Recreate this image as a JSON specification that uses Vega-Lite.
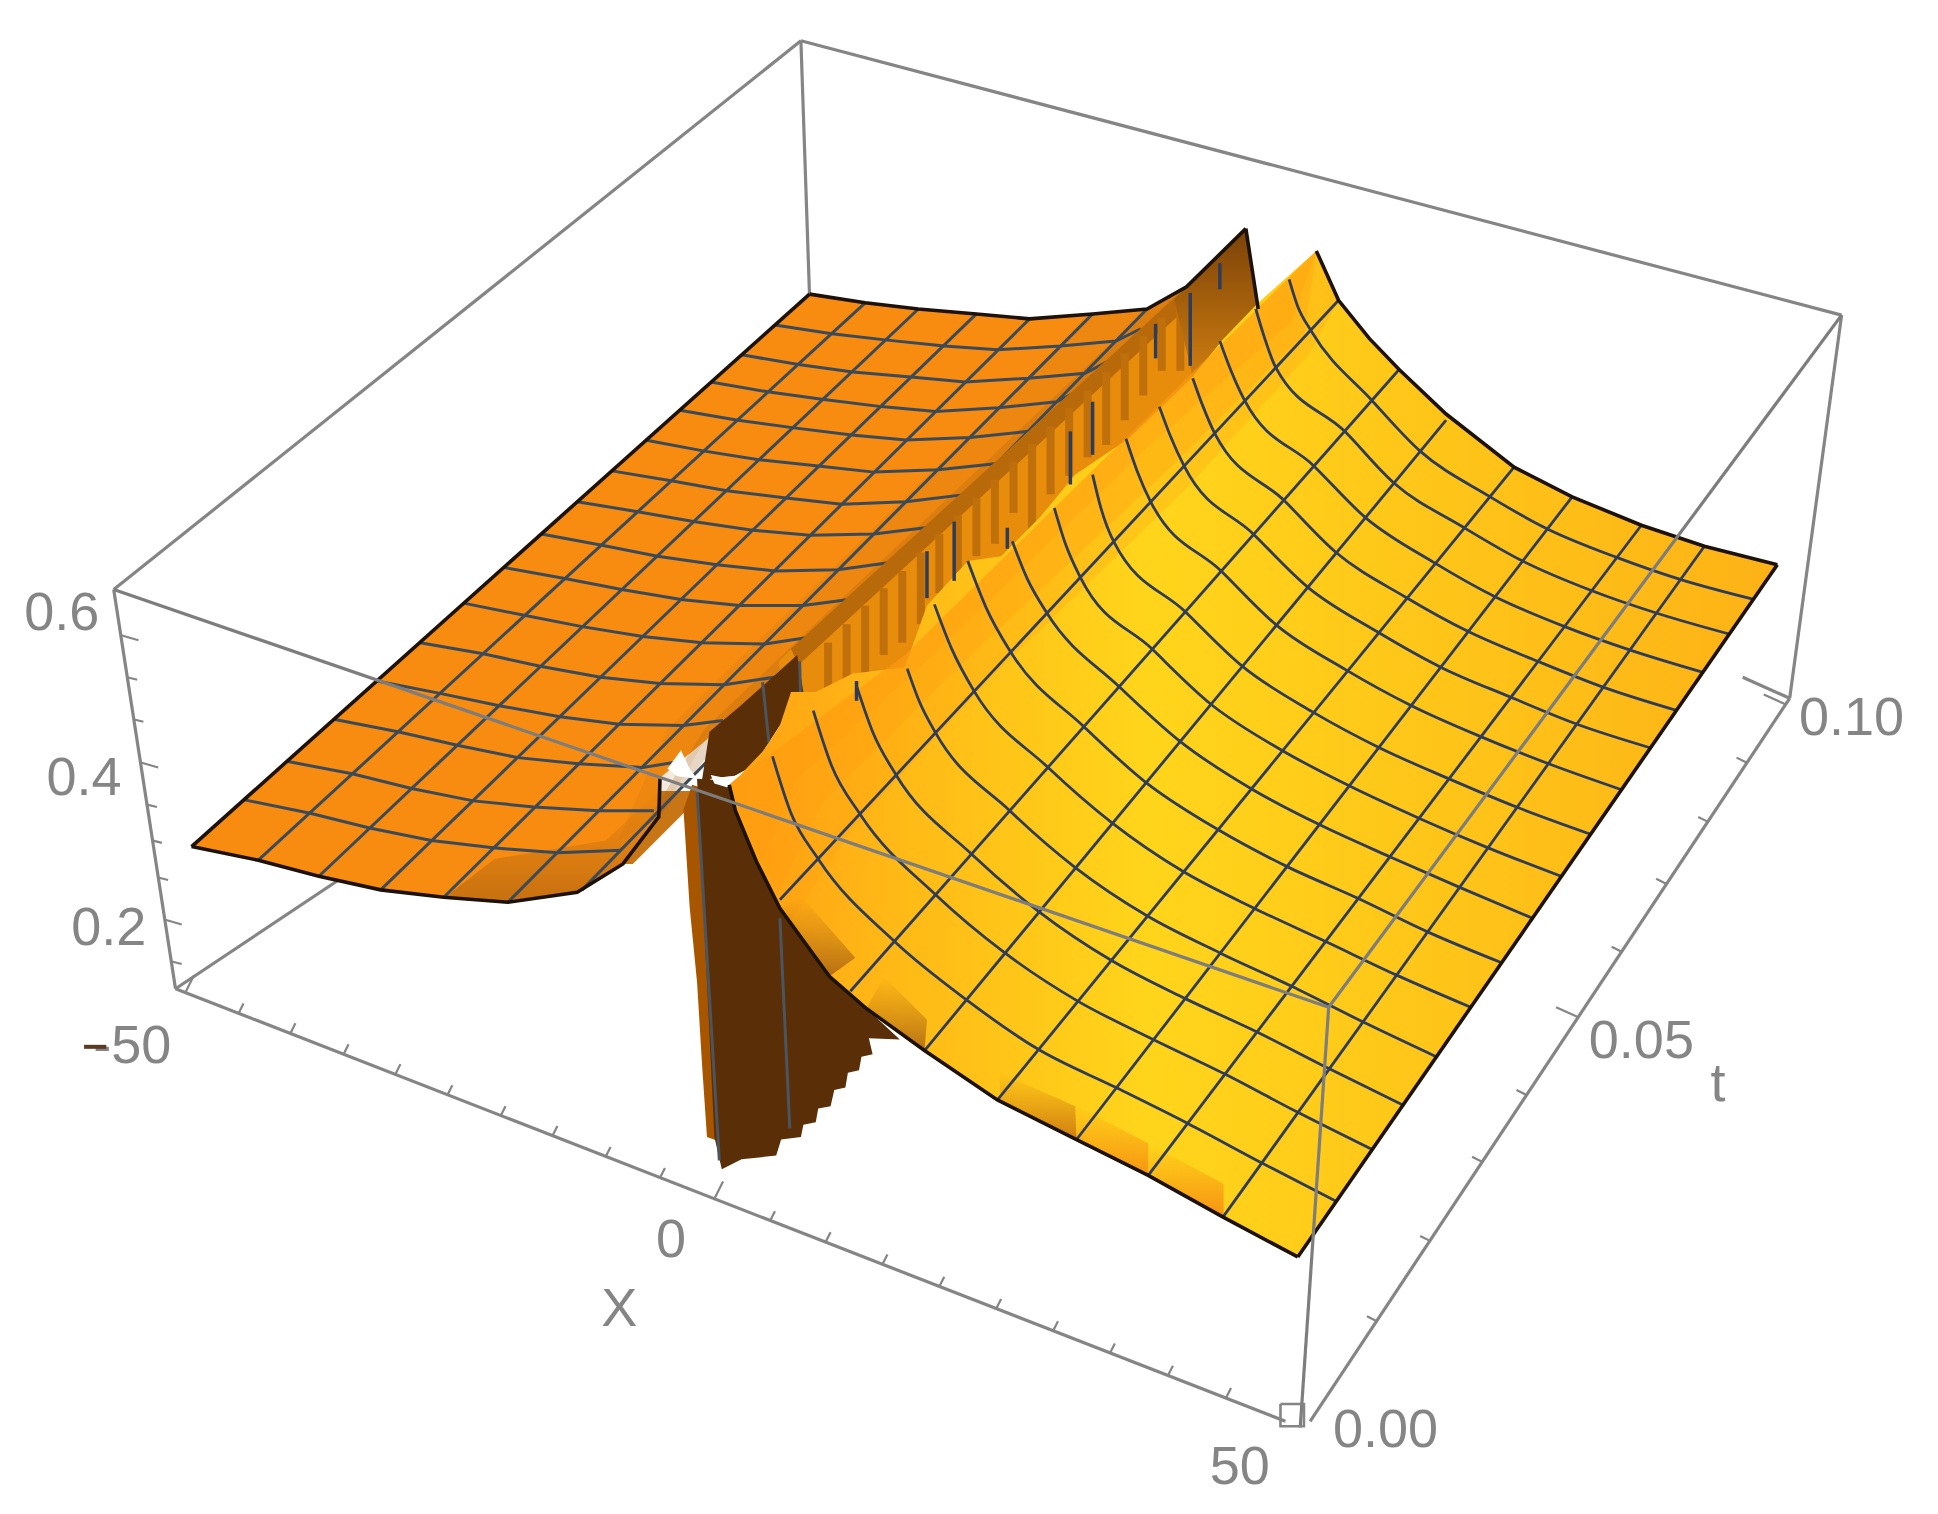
{"$schema":"https://vega.github.io/schema/vega-lite/v6.json","width":1938,"height":1514,"padding":0,"autosize":{"type":"none"},"background":"white","config":{"view":{"stroke":null}},
"encoding":{"x":{"field":"x","type":"quantitative","scale":{"domain":[0,1568],"range":[0,1938]},"axis":null},"y":{"field":"y","type":"quantitative","scale":{"domain":[0,1225],"range":[0,1514]},"axis":null}},
"layer":[
{"mark":{"type":"line","stroke":"#858585","strokeWidth":3.2},"encoding":{"detail":{"field":"i"}},"data":{"values":[
{"i":"a","x":648,"y":33},{"i":"a","x":655,"y":240},{"i":"b","x":648,"y":33},{"i":"b","x":1490,"y":255},{"i":"c","x":92,"y":477},{"i":"c","x":648,"y":33},{"i":"d","x":1448,"y":565},{"i":"d","x":1490,"y":255},{"i":"e","x":92,"y":477},{"i":"e","x":142,"y":800},{"i":"f","x":142,"y":800},{"i":"f","x":1040,"y":1150},{"i":"g","x":142,"y":800},{"i":"g","x":307,"y":690},{"i":"h","x":1060,"y":1150},{"i":"h","x":1448,"y":565},{"i":"j","x":1410,"y":548},{"i":"j","x":1448,"y":565}]}},
{"mark":{"type":"line","fill":"#c87515","strokeWidth":0},"encoding":{"order":{"field":"o"}},"data":{"values":[{"o":1,"x":533,"y":640},{"o":2,"x":560,"y":640},{"o":3,"x":554,"y":657},{"o":4,"x":512,"y":699},{"o":5,"x":504,"y":699}]}},
{"mark":{"type":"line","fill":"#f78c10","strokeWidth":0},"encoding":{"order":{"field":"o"}},"data":{"values":[{"o":1,"x":155,"y":685},{"o":2,"x":655,"y":238},{"o":3,"x":700,"y":245},{"o":4,"x":743,"y":250},{"o":5,"x":790,"y":254},{"o":6,"x":833,"y":258},{"o":7,"x":884,"y":254},{"o":8,"x":928,"y":250},{"o":9,"x":960,"y":232},{"o":10,"x":570,"y":600},{"o":11,"x":533,"y":630},{"o":12,"x":533,"y":661},{"o":13,"x":504,"y":699},{"o":14,"x":467,"y":722},{"o":15,"x":411,"y":730},{"o":16,"x":359,"y":726},{"o":17,"x":308,"y":720},{"o":18,"x":258,"y":709},{"o":19,"x":209,"y":696}]}},
{"mark":{"type":"line","fill":"#b86a10","fillOpacity":0.15,"strokeWidth":0},"encoding":{"order":{"field":"o"}},"data":{"values":[{"o":1,"x":960,"y":232},{"o":2,"x":928,"y":250},{"o":3,"x":884,"y":255},{"o":4,"x":540,"y":590},{"o":5,"x":500,"y":680},{"o":6,"x":533,"y":661},{"o":7,"x":570,"y":600}]}},
{"mark":{"type":"line","fill":"#a05a10","fillOpacity":0.22,"strokeWidth":0},"encoding":{"order":{"field":"o"}},"data":{"values":[{"o":1,"x":960,"y":232},{"o":2,"x":928,"y":250},{"o":3,"x":570,"y":590},{"o":4,"x":520,"y":670},{"o":5,"x":533,"y":661},{"o":6,"x":570,"y":600}]}},
{"mark":{"type":"line","fill":"#a05a10","fillOpacity":0.25,"strokeWidth":0},"encoding":{"order":{"field":"o"}},"data":{"values":[{"o":1,"x":960,"y":232},{"o":2,"x":945,"y":245},{"o":3,"x":590,"y":590},{"o":4,"x":533,"y":661},{"o":5,"x":570,"y":600}]}},
{"mark":{"type":"line","fill":{"x1":0,"y1":0,"x2":0,"y2":1,"gradient":"linear","stops":[{"offset":0,"color":"rgba(160,90,16,0)"},{"offset":1,"color":"rgba(150,85,16,0.5)"}]},"strokeWidth":0},"encoding":{"order":{"field":"o"}},"data":{"values":[{"o":1,"x":360,"y":726},{"o":2,"x":400,"y":695},{"o":3,"x":490,"y":680},{"o":4,"x":533,"y":640},{"o":5,"x":533,"y":661},{"o":6,"x":504,"y":699},{"o":7,"x":467,"y":722},{"o":8,"x":411,"y":730}]}},
{"mark":{"type":"line","stroke":"#3b4a58","strokeWidth":3},"encoding":{"detail":{"field":"i"}},"data":{"values":[
{"i":"r1","x":197,"y":647},{"i":"r1","x":251,"y":658},{"i":"r1","x":299,"y":670},{"i":"r1","x":349,"y":680},{"i":"r1","x":399,"y":686},{"i":"r1","x":451,"y":690},{"i":"r1","x":503,"y":688},
{"i":"r2","x":232,"y":616},{"i":"r2","x":285,"y":626},{"i":"r2","x":333,"y":638},{"i":"r2","x":383,"y":648},{"i":"r2","x":432,"y":653},{"i":"r2","x":484,"y":656},{"i":"r2","x":529,"y":656},
{"i":"r3","x":270,"y":582},{"i":"r3","x":322,"y":592},{"i":"r3","x":370,"y":603},{"i":"r3","x":419,"y":613},{"i":"r3","x":468,"y":618},{"i":"r3","x":520,"y":621},{"i":"r3","x":545,"y":617},
{"i":"r4","x":305,"y":551},{"i":"r4","x":356,"y":561},{"i":"r4","x":404,"y":571},{"i":"r4","x":453,"y":580},{"i":"r4","x":501,"y":586},{"i":"r4","x":553,"y":587},{"i":"r4","x":585,"y":583},
{"i":"r5","x":340,"y":520},{"i":"r5","x":391,"y":529},{"i":"r5","x":437,"y":539},{"i":"r5","x":486,"y":548},{"i":"r5","x":534,"y":553},{"i":"r5","x":586,"y":554},{"i":"r5","x":640,"y":546},
{"i":"r6","x":375,"y":488},{"i":"r6","x":425,"y":498},{"i":"r6","x":471,"y":507},{"i":"r6","x":520,"y":515},{"i":"r6","x":568,"y":520},{"i":"r6","x":619,"y":521},{"i":"r6","x":672,"y":513},{"i":"r6","x":683,"y":504},
{"i":"r7","x":407,"y":459},{"i":"r7","x":457,"y":468},{"i":"r7","x":503,"y":477},{"i":"r7","x":551,"y":485},{"i":"r7","x":598,"y":490},{"i":"r7","x":650,"y":490},{"i":"r7","x":702,"y":483},{"i":"r7","x":714,"y":473},
{"i":"r8","x":438,"y":432},{"i":"r8","x":486,"y":441},{"i":"r8","x":532,"y":450},{"i":"r8","x":580,"y":457},{"i":"r8","x":627,"y":462},{"i":"r8","x":678,"y":461},{"i":"r8","x":729,"y":454},{"i":"r8","x":743,"y":445},
{"i":"r9","x":467,"y":406},{"i":"r9","x":516,"y":414},{"i":"r9","x":561,"y":422},{"i":"r9","x":609,"y":429},{"i":"r9","x":655,"y":433},{"i":"r9","x":707,"y":432},{"i":"r9","x":757,"y":426},{"i":"r9","x":771,"y":417},
{"i":"r10","x":495,"y":381},{"i":"r10","x":543,"y":389},{"i":"r10","x":588,"y":397},{"i":"r10","x":636,"y":403},{"i":"r10","x":681,"y":408},{"i":"r10","x":733,"y":406},{"i":"r10","x":782,"y":400},{"i":"r10","x":797,"y":391},
{"i":"r11","x":522,"y":356},{"i":"r11","x":570,"y":365},{"i":"r11","x":614,"y":372},{"i":"r11","x":662,"y":377},{"i":"r11","x":707,"y":382},{"i":"r11","x":759,"y":380},{"i":"r11","x":807,"y":375},{"i":"r11","x":823,"y":365},
{"i":"r12","x":550,"y":332},{"i":"r12","x":597,"y":340},{"i":"r12","x":641,"y":346},{"i":"r12","x":689,"y":352},{"i":"r12","x":733,"y":356},{"i":"r12","x":785,"y":354},{"i":"r12","x":832,"y":349},{"i":"r12","x":850,"y":339},
{"i":"r13","x":575,"y":309},{"i":"r13","x":621,"y":317},{"i":"r13","x":665,"y":323},{"i":"r13","x":713,"y":329},{"i":"r13","x":757,"y":333},{"i":"r13","x":808,"y":330},{"i":"r13","x":855,"y":325},{"i":"r13","x":873,"y":316},
{"i":"r14","x":600,"y":287},{"i":"r14","x":646,"y":295},{"i":"r14","x":690,"y":301},{"i":"r14","x":737,"y":305},{"i":"r14","x":781,"y":309},{"i":"r14","x":832,"y":306},{"i":"r14","x":878,"y":302},{"i":"r14","x":897,"y":292},
{"i":"r15","x":627,"y":263},{"i":"r15","x":673,"y":270},{"i":"r15","x":716,"y":275},{"i":"r15","x":764,"y":280},{"i":"r15","x":807,"y":283},{"i":"r15","x":858,"y":280},{"i":"r15","x":903,"y":276},{"i":"r15","x":923,"y":266},
{"i":"c1","x":209,"y":696},{"i":"c1","x":700,"y":245},{"i":"c2","x":258,"y":709},{"i":"c2","x":743,"y":250},{"i":"c3","x":308,"y":720},{"i":"c3","x":790,"y":254},{"i":"c4","x":359,"y":726},{"i":"c4","x":833,"y":258},{"i":"c5","x":411,"y":730},{"i":"c5","x":884,"y":254},{"i":"c6","x":471,"y":720},{"i":"c6","x":928,"y":250}]}},
{"mark":{"type":"line","fill":"#e88c0c","strokeWidth":0},"encoding":{"order":{"field":"o"}},"data":{"values":[{"o":1,"x":960,"y":232},{"o":2,"x":1020,"y":250},{"o":3,"x":963,"y":320},{"o":4,"x":783,"y":490},{"o":5,"x":700,"y":580},{"o":6,"x":640,"y":600},{"o":7,"x":630,"y":535}]}},
{"mark":{"type":"line","fill":"#b8690a","strokeWidth":0},"encoding":{"order":{"field":"o"}},"data":{"values":[{"o":1,"x":960,"y":232},{"o":2,"x":640,"y":525},{"o":3,"x":646,"y":538},{"o":4,"x":968,"y":242}]}},
{"mark":{"type":"rule","stroke":"#c0700a","strokeWidth":8},"encoding":{"x2":{"field":"x2"},"y2":{"field":"y2"}},"data":{"values":[{"x":670,"y":520,"x2":670,"y2":565},{"x":685,"y":505,"x2":685,"y2":560},{"x":700,"y":490,"x2":700,"y2":550},{"x":715,"y":476,"x2":715,"y2":530},{"x":730,"y":462,"x2":730,"y2":520},{"x":745,"y":447,"x2":745,"y2":505},{"x":760,"y":432,"x2":760,"y2":480},{"x":775,"y":417,"x2":775,"y2":465},{"x":790,"y":403,"x2":790,"y2":450},{"x":805,"y":388,"x2":805,"y2":440},{"x":820,"y":374,"x2":820,"y2":415},{"x":835,"y":359,"x2":835,"y2":430},{"x":850,"y":345,"x2":850,"y2":400},{"x":865,"y":330,"x2":865,"y2":385},{"x":880,"y":316,"x2":880,"y2":370},{"x":895,"y":301,"x2":895,"y2":360},{"x":910,"y":286,"x2":910,"y2":340},{"x":925,"y":272,"x2":925,"y2":320},{"x":940,"y":257,"x2":940,"y2":300},{"x":955,"y":243,"x2":955,"y2":300}]}},
{"mark":{"type":"line","fill":{"x1":0,"y1":0,"x2":0,"y2":1,"gradient":"linear","stops":[{"offset":0,"color":"#7a4208"},{"offset":1,"color":"#cf7d10"}]},"strokeWidth":0},"encoding":{"order":{"field":"o"}},"data":{"values":[{"o":1,"x":950,"y":242},{"o":2,"x":1008,"y":185},{"o":3,"x":1018,"y":252},{"o":4,"x":985,"y":285},{"o":5,"x":965,"y":305}]}},
{"mark":{"type":"line","fill":"#a85500","strokeWidth":0},"encoding":{"order":{"field":"o"}},"data":{"values":[{"o":1,"x":553,"y":655},{"o":2,"x":560,"y":635},{"o":3,"x":575,"y":640},{"o":4,"x":586,"y":925},{"o":5,"x":572,"y":920},{"o":6,"x":568,"y":861},{"o":7,"x":564,"y":795},{"o":8,"x":558,"y":734}]}},
{"mark":{"type":"line","fill":"#5a2e06","strokeWidth":0},"encoding":{"order":{"field":"o"}},"data":{"values":[{"o":1,"x":564,"y":630},{"o":2,"x":590,"y":632},{"o":3,"x":595,"y":656},{"o":4,"x":612,"y":697},{"o":5,"x":631,"y":735},{"o":6,"x":671,"y":790},{"o":7,"x":701,"y":816},{"o":8,"x":728,"y":841},{"o":9,"x":703,"y":840},{"o":10,"x":706,"y":853},{"o":11,"x":697,"y":855},{"o":12,"x":695,"y":866},{"o":13,"x":686,"y":868},{"o":14,"x":684,"y":880},{"o":15,"x":675,"y":882},{"o":16,"x":672,"y":895},{"o":17,"x":662,"y":897},{"o":18,"x":660,"y":908},{"o":19,"x":650,"y":910},{"o":20,"x":648,"y":920},{"o":21,"x":632,"y":922},{"o":22,"x":628,"y":935},{"o":23,"x":600,"y":938},{"o":24,"x":584,"y":946},{"o":25,"x":578,"y":920},{"o":26,"x":572,"y":795},{"o":27,"x":565,"y":656}]}},
{"mark":{"type":"line","fill":"#5a2e06","strokeWidth":0},"encoding":{"order":{"field":"o"}},"data":{"values":[{"o":1,"x":566,"y":644},{"o":2,"x":574,"y":592},{"o":3,"x":598,"y":572},{"o":4,"x":617,"y":555},{"o":5,"x":645,"y":530},{"o":6,"x":650,"y":560},{"o":7,"x":631,"y":587},{"o":8,"x":618,"y":607},{"o":9,"x":604,"y":627},{"o":10,"x":590,"y":628},{"o":11,"x":575,"y":630}]}},
{"mark":{"type":"line","stroke":"#4a5560","strokeWidth":3},"encoding":{"detail":{"field":"i"}},"data":{"values":[{"i":"a","x":564,"y":641},{"i":"a","x":582,"y":939},{"i":"b","x":631,"y":743},{"i":"b","x":639,"y":913},{"i":"c","x":617,"y":552},{"i":"c","x":623,"y":609},{"i":"d","x":647,"y":535},{"i":"d","x":648,"y":580}]}},
{"mark":{"type":"line","fill":"white","strokeWidth":0},"encoding":{"order":{"field":"o"}},"data":{"values":[{"o":1,"x":540,"y":622},{"o":2,"x":551,"y":607},{"o":3,"x":558,"y":622},{"o":4,"x":564,"y":630},{"o":5,"x":548,"y":628}]}},
{"mark":{"type":"line","fill":"white","strokeWidth":0},"encoding":{"order":{"field":"o"}},"data":{"values":[{"o":1,"x":575,"y":627},{"o":2,"x":590,"y":630},{"o":3,"x":605,"y":622},{"o":4,"x":600,"y":632},{"o":5,"x":588,"y":637},{"o":6,"x":578,"y":634}]}},
{"mark":{"type":"line","fill":{"x1":0,"y1":0,"x2":1,"y2":0,"gradient":"linear","stops":[{"offset":0,"color":"#ffa012"},{"offset":0.15,"color":"#ffb816"},{"offset":0.4,"color":"#ffd51b"},{"offset":0.75,"color":"#fec118"},{"offset":1,"color":"#fdb216"}]},"strokeWidth":0},"encoding":{"order":{"field":"o"}},"data":{"values":[{"o":1,"x":1065,"y":203},{"o":2,"x":1083,"y":243},{"o":3,"x":1108,"y":274},{"o":4,"x":1132,"y":299},{"o":5,"x":1170,"y":335},{"o":6,"x":1225,"y":378},{"o":7,"x":1272,"y":402},{"o":8,"x":1328,"y":425},{"o":9,"x":1379,"y":442},{"o":10,"x":1438,"y":457},{"o":11,"x":1050,"y":1017},{"o":12,"x":990,"y":985},{"o":13,"x":929,"y":951},{"o":14,"x":871,"y":922},{"o":15,"x":807,"y":890},{"o":16,"x":748,"y":850},{"o":17,"x":701,"y":816},{"o":18,"x":671,"y":790},{"o":19,"x":631,"y":735},{"o":20,"x":612,"y":697},{"o":21,"x":595,"y":656},{"o":22,"x":590,"y":635},{"o":23,"x":599,"y":627},{"o":24,"x":618,"y":607},{"o":25,"x":631,"y":587},{"o":26,"x":640,"y":560},{"o":27,"x":660,"y":560},{"o":28,"x":690,"y":545},{"o":29,"x":732,"y":540},{"o":30,"x":750,"y":490},{"o":31,"x":783,"y":454},{"o":32,"x":810,"y":450},{"o":33,"x":841,"y":419},{"o":34,"x":870,"y":384},{"o":35,"x":913,"y":355},{"o":36,"x":963,"y":307},{"o":37,"x":989,"y":275},{"o":38,"x":1018,"y":245}]}},
{"mark":{"type":"line","fill":"#ff9a10","fillOpacity":0.25,"strokeWidth":0},"encoding":{"order":{"field":"o"}},"data":{"values":[{"o":1,"x":1065,"y":203},{"o":2,"x":1083,"y":243},{"o":3,"x":1060,"y":285},{"o":4,"x":960,"y":395},{"o":5,"x":800,"y":550},{"o":6,"x":690,"y":670},{"o":7,"x":640,"y":745},{"o":8,"x":590,"y":635},{"o":9,"x":732,"y":530}]}},
{"mark":{"type":"line","fill":"#ff9a10","fillOpacity":0.3,"strokeWidth":0},"encoding":{"order":{"field":"o"}},"data":{"values":[{"o":1,"x":1065,"y":203},{"o":2,"x":1055,"y":270},{"o":3,"x":945,"y":380},{"o":4,"x":775,"y":540},{"o":5,"x":665,"y":650},{"o":6,"x":628,"y":725},{"o":7,"x":590,"y":635},{"o":8,"x":732,"y":530}]}},
{"mark":{"type":"line","fill":"#ff9a10","fillOpacity":0.3,"strokeWidth":0},"encoding":{"order":{"field":"o"}},"data":{"values":[{"o":1,"x":1065,"y":203},{"o":2,"x":1045,"y":260},{"o":3,"x":925,"y":365},{"o":4,"x":755,"y":530},{"o":5,"x":645,"y":630},{"o":6,"x":615,"y":700},{"o":7,"x":590,"y":635},{"o":8,"x":732,"y":530}]}},
{"mark":{"type":"line","fill":{"x1":0,"y1":0,"x2":0,"y2":1,"gradient":"linear","stops":[{"offset":0,"color":"rgba(190,115,18,0)"},{"offset":1,"color":"rgba(170,100,18,0.85)"}]},"strokeWidth":0},"encoding":{"order":{"field":"o"}},"data":{"values":[{"o":1,"x":631,"y":735},{"o":2,"x":648,"y":725},{"o":3,"x":692,"y":775},{"o":4,"x":671,"y":790}]}},
{"mark":{"type":"line","fill":{"x1":0,"y1":0,"x2":0,"y2":1,"gradient":"linear","stops":[{"offset":0,"color":"rgba(190,115,18,0)"},{"offset":1,"color":"rgba(170,100,18,0.85)"}]},"strokeWidth":0},"encoding":{"order":{"field":"o"}},"data":{"values":[{"o":1,"x":701,"y":816},{"o":2,"x":715,"y":790},{"o":3,"x":750,"y":825},{"o":4,"x":748,"y":850}]}},
{"mark":{"type":"line","fill":{"x1":0,"y1":0,"x2":0,"y2":1,"gradient":"linear","stops":[{"offset":0,"color":"rgba(215,130,15,0)"},{"offset":1,"color":"rgba(200,115,15,0.9)"}]},"strokeWidth":0},"encoding":{"order":{"field":"o"}},"data":{"values":[{"o":1,"x":809,"y":868},{"o":2,"x":870,"y":895},{"o":3,"x":871,"y":922},{"o":4,"x":809,"y":891}]}},
{"mark":{"type":"line","fill":{"x1":0,"y1":0,"x2":0,"y2":1,"gradient":"linear","stops":[{"offset":0,"color":"rgba(245,138,16,0)"},{"offset":1,"color":"rgba(245,138,16,0.85)"}]},"strokeWidth":0},"encoding":{"order":{"field":"o"}},"data":{"values":[{"o":1,"x":871,"y":895},{"o":2,"x":929,"y":925},{"o":3,"x":929,"y":951},{"o":4,"x":871,"y":922}]}},
{"mark":{"type":"line","fill":{"x1":0,"y1":0,"x2":0,"y2":1,"gradient":"linear","stops":[{"offset":0,"color":"rgba(245,138,16,0)"},{"offset":1,"color":"rgba(245,138,16,0.85)"}]},"strokeWidth":0},"encoding":{"order":{"field":"o"}},"data":{"values":[{"o":1,"x":929,"y":925},{"o":2,"x":990,"y":958},{"o":3,"x":990,"y":985},{"o":4,"x":929,"y":951}]}},
{"mark":{"type":"line","stroke":"#2f3c58","strokeWidth":2.8,"interpolate":"monotone"},"encoding":{"detail":{"field":"i"}},"data":{"values":[
{"i":"a","x":625,"y":612},{"i":"a","x":640,"y":658},{"i":"a","x":662,"y":695},{"i":"a","x":724,"y":762},{"i":"a","x":782,"y":809},{"i":"a","x":840,"y":849},{"i":"a","x":903,"y":880},{"i":"a","x":961,"y":909},{"i":"a","x":1021,"y":941},{"i":"a","x":1081,"y":972},
{"i":"b","x":658,"y":575},{"i":"b","x":673,"y":620},{"i":"b","x":696,"y":659},{"i":"b","x":757,"y":724},{"i":"b","x":813,"y":771},{"i":"b","x":872,"y":810},{"i":"b","x":933,"y":841},{"i":"b","x":991,"y":869},{"i":"b","x":1050,"y":900},{"i":"b","x":1110,"y":930},
{"i":"c","x":693,"y":555},{"i":"c","x":706,"y":592},{"i":"c","x":725,"y":627},{"i":"c","x":786,"y":691},{"i":"c","x":841,"y":738},{"i":"c","x":899,"y":777},{"i":"c","x":959,"y":808},{"i":"c","x":1017,"y":835},{"i":"c","x":1076,"y":865},{"i":"c","x":1135,"y":894},
{"i":"d","x":734,"y":541},{"i":"d","x":744,"y":568},{"i":"d","x":757,"y":593},{"i":"d","x":817,"y":656},{"i":"d","x":870,"y":702},{"i":"d","x":928,"y":741},{"i":"d","x":987,"y":771},{"i":"d","x":1045,"y":798},{"i":"d","x":1103,"y":827},{"i":"d","x":1162,"y":855},
{"i":"e","x":756,"y":489},{"i":"e","x":770,"y":525},{"i":"e","x":788,"y":559},{"i":"e","x":848,"y":621},{"i":"e","x":900,"y":666},{"i":"e","x":957,"y":705},{"i":"e","x":1015,"y":735},{"i":"e","x":1073,"y":762},{"i":"e","x":1130,"y":789},{"i":"e","x":1190,"y":815},
{"i":"f","x":783,"y":454},{"i":"f","x":798,"y":492},{"i":"f","x":818,"y":528},{"i":"f","x":877,"y":588},{"i":"f","x":927,"y":633},{"i":"f","x":985,"y":671},{"i":"f","x":1041,"y":701},{"i":"f","x":1099,"y":727},{"i":"f","x":1155,"y":754},{"i":"f","x":1215,"y":779},
{"i":"g","x":819,"y":438},{"i":"g","x":831,"y":468},{"i":"g","x":847,"y":496},{"i":"g","x":906,"y":556},{"i":"g","x":955,"y":600},{"i":"g","x":1012,"y":638},{"i":"g","x":1067,"y":667},{"i":"g","x":1124,"y":693},{"i":"g","x":1181,"y":718},{"i":"g","x":1240,"y":743},
{"i":"h","x":853,"y":411},{"i":"h","x":862,"y":440},{"i":"h","x":874,"y":467},{"i":"h","x":932,"y":525},{"i":"h","x":980,"y":570},{"i":"h","x":1037,"y":607},{"i":"h","x":1092,"y":636},{"i":"h","x":1148,"y":662},{"i":"h","x":1204,"y":686},{"i":"h","x":1263,"y":709},
{"i":"k","x":884,"y":384},{"i":"k","x":891,"y":412},{"i":"k","x":901,"y":438},{"i":"k","x":959,"y":495},{"i":"k","x":1005,"y":539},{"i":"k","x":1062,"y":576},{"i":"k","x":1116,"y":605},{"i":"k","x":1172,"y":630},{"i":"k","x":1227,"y":653},{"i":"k","x":1287,"y":675},
{"i":"l","x":911,"y":355},{"i":"l","x":920,"y":381},{"i":"l","x":931,"y":406},{"i":"l","x":988,"y":462},{"i":"l","x":1033,"y":506},{"i":"l","x":1089,"y":542},{"i":"l","x":1142,"y":571},{"i":"l","x":1198,"y":596},{"i":"l","x":1253,"y":618},{"i":"l","x":1312,"y":639},
{"i":"m","x":938,"y":329},{"i":"m","x":947,"y":353},{"i":"m","x":958,"y":377},{"i":"m","x":1014,"y":432},{"i":"m","x":1058,"y":475},{"i":"m","x":1114,"y":511},{"i":"m","x":1166,"y":540},{"i":"m","x":1222,"y":564},{"i":"m","x":1276,"y":586},{"i":"m","x":1335,"y":605},
{"i":"n","x":965,"y":306},{"i":"n","x":973,"y":328},{"i":"n","x":983,"y":351},{"i":"n","x":1039,"y":405},{"i":"n","x":1081,"y":447},{"i":"n","x":1137,"y":483},{"i":"n","x":1188,"y":511},{"i":"n","x":1244,"y":535},{"i":"n","x":1297,"y":556},{"i":"n","x":1357,"y":575},
{"i":"p","x":987,"y":276},{"i":"p","x":996,"y":300},{"i":"p","x":1007,"y":324},{"i":"p","x":1063,"y":377},{"i":"p","x":1105,"y":419},{"i":"p","x":1160,"y":455},{"i":"p","x":1210,"y":483},{"i":"p","x":1266,"y":507},{"i":"p","x":1319,"y":526},{"i":"p","x":1378,"y":544},
{"i":"q","x":1016,"y":250},{"i":"q","x":1023,"y":273},{"i":"q","x":1032,"y":297},{"i":"q","x":1088,"y":349},{"i":"q","x":1128,"y":391},{"i":"q","x":1183,"y":426},{"i":"q","x":1232,"y":454},{"i":"q","x":1288,"y":478},{"i":"q","x":1340,"y":496},{"i":"q","x":1399,"y":513},
{"i":"s","x":1043,"y":226},{"i":"s","x":1050,"y":248},{"i":"s","x":1061,"y":268},{"i":"s","x":1110,"y":324},{"i":"s","x":1149,"y":365},{"i":"s","x":1204,"y":401},{"i":"s","x":1252,"y":428},{"i":"s","x":1308,"y":451},{"i":"s","x":1360,"y":469},{"i":"s","x":1419,"y":485}]}},
{"mark":{"type":"line","stroke":"#2f3c58","strokeWidth":2.8},"encoding":{"detail":{"field":"i"}},"data":{"values":[
{"i":"C1","x":631,"y":728},{"i":"C1","x":1083,"y":243},{"i":"C2","x":688,"y":802},{"i":"C2","x":1132,"y":299},{"i":"C3","x":748,"y":850},{"i":"C3","x":1170,"y":340},{"i":"C4","x":807,"y":890},{"i":"C4","x":1225,"y":378},{"i":"C5","x":871,"y":922},{"i":"C5","x":1272,"y":402},{"i":"C6","x":929,"y":951},{"i":"C6","x":1328,"y":425},{"i":"C7","x":990,"y":984},{"i":"C7","x":1379,"y":442}]}},
{"mark":{"type":"rule","stroke":"#2f3c58","strokeWidth":3.5},"encoding":{"x2":{"field":"x2"},"y2":{"field":"y2"}},"data":{"values":[{"x":935,"y":262,"x2":935,"y2":290},{"x":987,"y":213,"x2":987,"y2":234},{"x":963,"y":237,"x2":963,"y2":296},{"x":884,"y":325,"x2":884,"y2":368},{"x":866,"y":349,"x2":866,"y2":392},{"x":772,"y":422,"x2":772,"y2":470},{"x":750,"y":446,"x2":750,"y2":484},{"x":815,"y":427,"x2":815,"y2":444},{"x":693,"y":551,"x2":693,"y2":567}]}},
{"mark":{"type":"line","stroke":"#1c120a","strokeWidth":3.6},"encoding":{"detail":{"field":"i"}},"data":{"values":[
{"i":"a","x":1065,"y":203},{"i":"a","x":1083,"y":243},{"i":"a","x":1108,"y":274},{"i":"a","x":1132,"y":299},{"i":"a","x":1170,"y":335},{"i":"a","x":1225,"y":378},{"i":"a","x":1272,"y":402},{"i":"a","x":1328,"y":425},{"i":"a","x":1379,"y":442},{"i":"a","x":1438,"y":457},
{"i":"b","x":1050,"y":1017},{"i":"b","x":1438,"y":457},
{"i":"c","x":590,"y":635},{"i":"c","x":595,"y":656},{"i":"c","x":612,"y":697},{"i":"c","x":631,"y":735},{"i":"c","x":671,"y":790},{"i":"c","x":701,"y":816},{"i":"c","x":748,"y":850},{"i":"c","x":807,"y":890},{"i":"c","x":871,"y":922},{"i":"c","x":929,"y":951},{"i":"c","x":990,"y":985},{"i":"c","x":1050,"y":1017},
{"i":"d","x":655,"y":238},{"i":"d","x":700,"y":245},{"i":"d","x":743,"y":250},{"i":"d","x":790,"y":254},{"i":"d","x":833,"y":258},{"i":"d","x":884,"y":254},{"i":"d","x":928,"y":250},{"i":"d","x":960,"y":232},{"i":"d","x":1008,"y":185},
{"i":"e","x":155,"y":685},{"i":"e","x":655,"y":238},
{"i":"f","x":155,"y":685},{"i":"f","x":209,"y":696},{"i":"f","x":258,"y":709},{"i":"f","x":308,"y":720},{"i":"f","x":359,"y":726},{"i":"f","x":411,"y":730},{"i":"f","x":467,"y":722},{"i":"f","x":504,"y":699},{"i":"f","x":533,"y":661},{"i":"f","x":534,"y":630},
{"i":"g","x":1008,"y":185},{"i":"g","x":1018,"y":250}]}},
{"mark":{"type":"line","stroke":"#7d7d7d","strokeWidth":3.2},"encoding":{"detail":{"field":"i"}},"data":{"values":[{"i":"a","x":92,"y":477},{"i":"a","x":1075,"y":815},{"i":"b","x":1075,"y":815},{"i":"b","x":1490,"y":255},{"i":"c","x":1052,"y":1155},{"i":"c","x":1075,"y":815}]}},
{"mark":{"type":"line","stroke":"#858585","strokeWidth":2.6},"encoding":{"detail":{"field":"i"},"order":{"field":"o"}},"data":{"values":[{"i":"a","o":1,"x":1036,"y":1136},{"i":"a","o":2,"x":1055,"y":1136},{"i":"a","o":3,"x":1055,"y":1154},{"i":"a","o":4,"x":1036,"y":1154},{"i":"a","o":5,"x":1036,"y":1136}]}},
{"mark":{"type":"rule","stroke":"#858585","strokeWidth":2.2},"encoding":{"x2":{"field":"x2"},"y2":{"field":"y2"}},"data":{"values":[
{"x":98,"y":514,"x2":112,"y2":518},{"x":103,"y":548,"x2":111,"y2":550},{"x":108,"y":582,"x2":116,"y2":584},{"x":114,"y":617,"x2":128,"y2":621},{"x":119,"y":651,"x2":127,"y2":653},{"x":123,"y":680,"x2":131,"y2":682},{"x":128,"y":710,"x2":136,"y2":712},{"x":133,"y":744,"x2":147,"y2":748},{"x":139,"y":778,"x2":147,"y2":780},
{"x":150,"y":803,"x2":157,"y2":789},{"x":193,"y":820,"x2":197,"y2":812},{"x":235,"y":836,"x2":239,"y2":828},{"x":278,"y":853,"x2":282,"y2":845},{"x":320,"y":869,"x2":324,"y2":861},{"x":362,"y":886,"x2":366,"y2":878},{"x":405,"y":903,"x2":409,"y2":895},{"x":447,"y":919,"x2":451,"y2":911},{"x":490,"y":936,"x2":494,"y2":928},{"x":534,"y":953,"x2":538,"y2":945},{"x":578,"y":970,"x2":585,"y2":956},{"x":623,"y":988,"x2":627,"y2":980},{"x":668,"y":1005,"x2":672,"y2":997},{"x":714,"y":1023,"x2":718,"y2":1015},{"x":760,"y":1041,"x2":764,"y2":1033},{"x":806,"y":1059,"x2":810,"y2":1051},{"x":852,"y":1077,"x2":856,"y2":1069},{"x":898,"y":1095,"x2":902,"y2":1087},{"x":945,"y":1113,"x2":949,"y2":1105},{"x":992,"y":1131,"x2":996,"y2":1123},
{"x":1114,"y":1069,"x2":1106,"y2":1065},{"x":1157,"y":1004,"x2":1149,"y2":1000},{"x":1199,"y":940,"x2":1191,"y2":936},{"x":1235,"y":886,"x2":1227,"y2":882},{"x":1277,"y":823,"x2":1259,"y2":815},{"x":1312,"y":770,"x2":1304,"y2":766},{"x":1348,"y":715,"x2":1340,"y2":711},{"x":1382,"y":665,"x2":1374,"y2":661},{"x":1413,"y":617,"x2":1405,"y2":613},{"x":1445,"y":570,"x2":1427,"y2":562}]}},
{"mark":{"type":"text","font":"Liberation Sans","fontSize":54,"fill":"#858585","align":"center","baseline":"middle"},"encoding":{"text":{"field":"t"}},"data":{"values":[{"x":50,"y":497,"t":"0.6"},{"x":68,"y":630,"t":"0.4"},{"x":88,"y":752,"t":"0.2"},{"x":107,"y":847,"t":"-50"},{"x":543,"y":1004,"t":"0"},{"x":501,"y":1060,"t":"X"},{"x":1003,"y":1188,"t":"50"},{"x":1121,"y":1158,"t":"0.00"},{"x":1328,"y":843,"t":"0.05"},{"x":1390,"y":878,"t":"t"},{"x":1498,"y":582,"t":"0.10"}]}},
{"mark":{"type":"line","stroke":"#5a3a20","strokeWidth":4},"data":{"values":[{"x":68,"y":847},{"x":86,"y":847}]}}
]}
